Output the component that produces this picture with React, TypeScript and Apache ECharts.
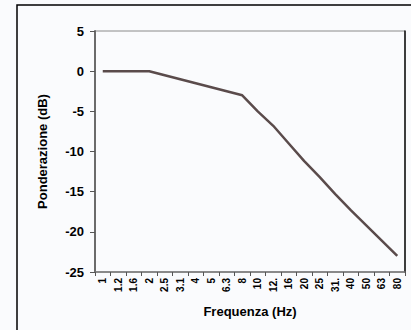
import React, { useEffect, useRef } from "react";
import * as echarts from "echarts";

const frequencies = ["1", "1.25", "1.6", "2", "2.5", "3.15", "4", "5", "6.3", "8", "10", "12.5", "16", "20", "25", "31.5", "40", "50", "63", "80"];
const weighting = [0, 0, 0, 0, -0.5, -1, -1.5, -2, -2.5, -3, -5, -6.8, -9, -11.2, -13.2, -15.3, -17.3, -19.2, -21.1, -23];
const yTicks = { min: -25, max: 5, interval: 5 };
const xTitle = "Frequenza (Hz)";
const yTitle = "Ponderazione (dB)";

export default function App() {
  const ref = useRef<HTMLDivElement>(null);
  useEffect(() => {
    document.body.style.margin = "0";
    document.body.style.background = "#fafbfd";
    const chart = echarts.init(ref.current!, null, { renderer: "svg" });
    const font = "'Liberation Sans', Arial, sans-serif";
    chart.setOption({
      animation: false,
      backgroundColor: "#fafbfd",
      textStyle: { fontFamily: font },
      graphic: [
        {
          type: "rect",
          shape: { x: 17, y: 5, width: 420, height: 360 },
          style: { fill: "none", stroke: "#000", lineWidth: 1.5 },
          silent: true,
        },
      ],
      grid: {
        left: 95,
        top: 31,
        right: 6,
        bottom: 58,
        show: true,
        borderColor: "#8a8a8a",
        borderWidth: 1,
        backgroundColor: "#fafbfd",
      },
      xAxis: {
        type: "category",
        data: frequencies,
        boundaryGap: true,
        name: xTitle,
        nameLocation: "middle",
        nameGap: 33,
        nameTextStyle: { fontSize: 13, fontWeight: "bold", color: "#000", fontFamily: font },
        axisLine: { onZero: false, lineStyle: { color: "#777", width: 1.5 } },
        axisTick: { show: true, alignWithLabel: false, length: 4, lineStyle: { color: "#555" } },
        axisLabel: {
          rotate: 90,
          interval: 0,
          margin: 6,
          fontSize: 10,
          fontWeight: "bold",
          color: "#000",
          fontFamily: font,
          formatter: (v: string) => v.slice(0, 3),
        },
      },
      yAxis: [
        {
          type: "value",
          min: yTicks.min,
          max: yTicks.max,
          interval: yTicks.interval,
          name: yTitle,
          nameLocation: "middle",
          nameGap: 46,
          nameTextStyle: { fontSize: 13, fontWeight: "bold", color: "#000", fontFamily: font },
          axisLine: { show: true, onZero: false, lineStyle: { color: "#6b6b6b", width: 2 } },
          axisTick: { show: true, length: 5, lineStyle: { color: "#555" } },
          axisLabel: { fontSize: 13, fontWeight: "bold", color: "#000", margin: 11, fontFamily: font },
          splitLine: { show: false },
        },
        {
          type: "value",
          position: "right",
          min: yTicks.min,
          max: yTicks.max,
          axisLine: { show: true, onZero: false, lineStyle: { color: "#111", width: 1.5 } },
          axisTick: { show: false },
          axisLabel: { show: false },
          splitLine: { show: false },
        },
      ],
      series: [
        {
          type: "line",
          data: weighting,
          showSymbol: false,
          symbol: "none",
          lineStyle: { color: "#5a4b4b", width: 2.5 },
        },
      ],
    });
    return () => chart.dispose();
  }, []);
  return <div ref={ref} style={{ width: 411, height: 330 }} />;
}
